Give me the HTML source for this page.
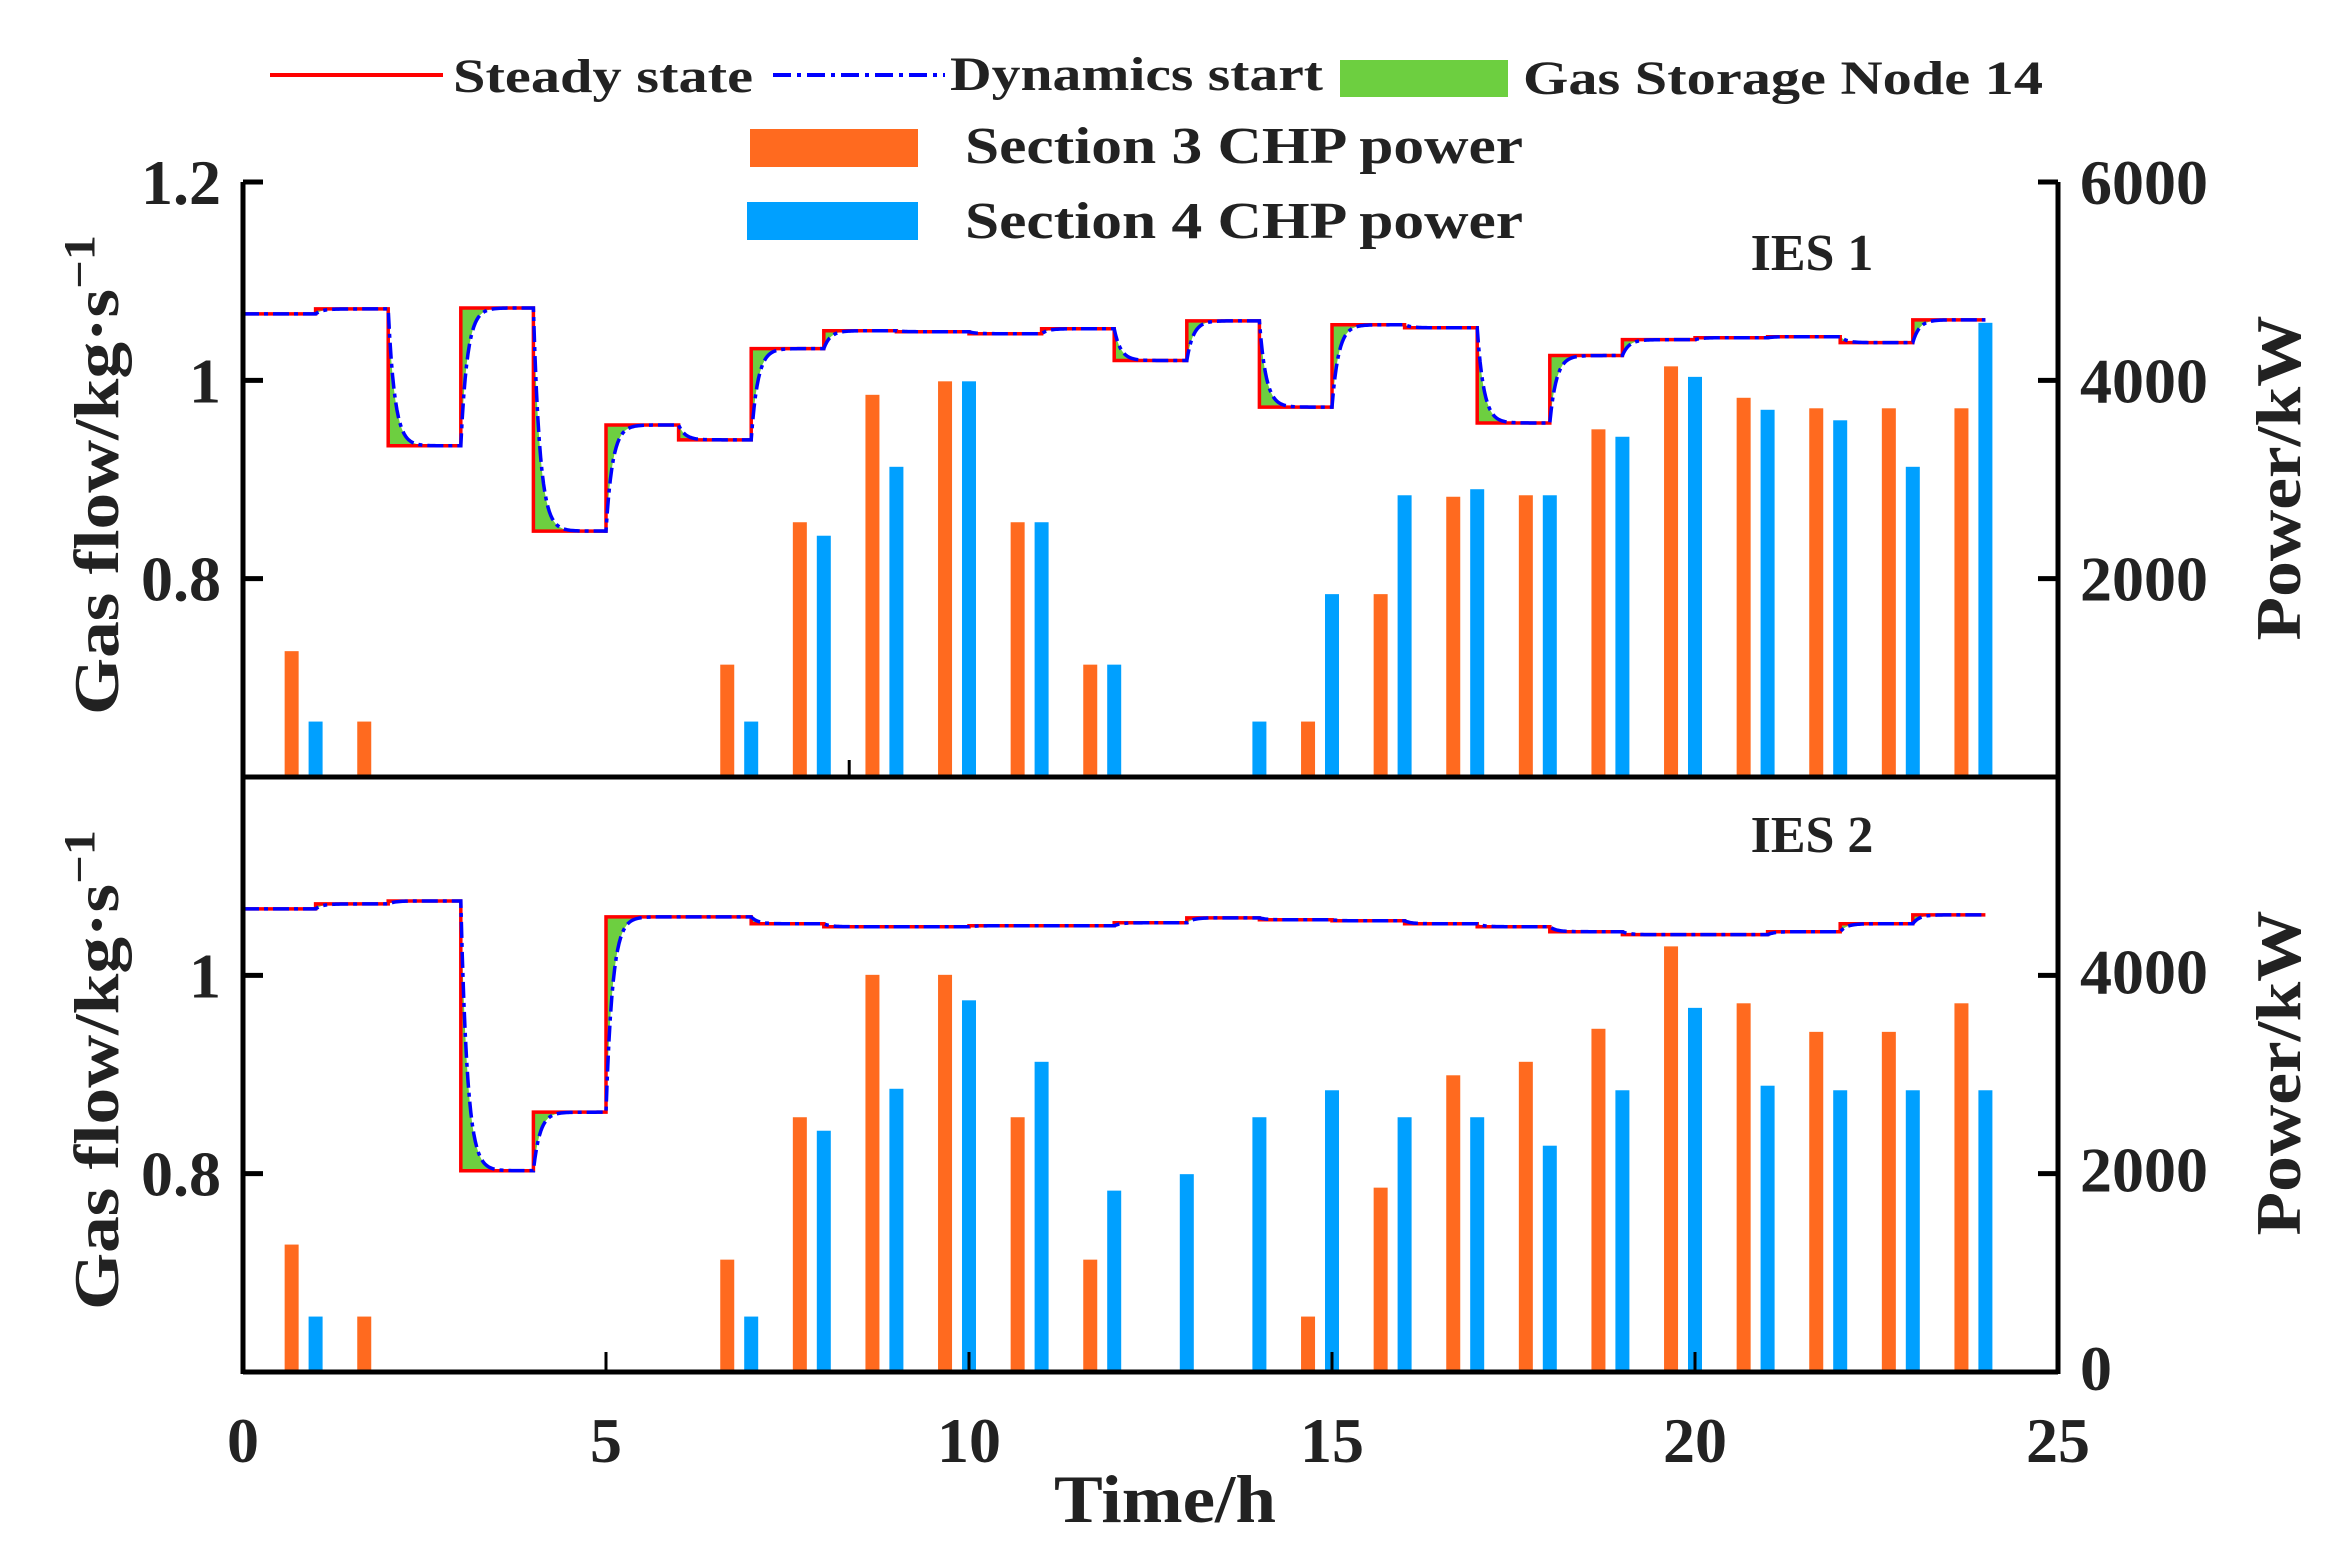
<!DOCTYPE html>
<html><head><meta charset="utf-8"><style>
html,body{margin:0;padding:0;background:#fff}
svg{display:block}
text{font-family:"Liberation Serif",serif;font-weight:bold;fill:#222}
</style></head><body>
<svg id="chart" width="2346" height="1549" viewBox="0 0 2346 1549" xmlns="http://www.w3.org/2000/svg">
<g id="legend">
  <line x1="270" y1="75" x2="443" y2="75" stroke="#f00" stroke-width="4"/>
  <text x="453" y="92" font-size="48" textLength="300" lengthAdjust="spacingAndGlyphs">Steady state</text>
  <line x1="773" y1="75" x2="945" y2="75" stroke="#00f" stroke-width="4" stroke-dasharray="18,6,4,6"/>
  <text x="950" y="90" font-size="48" textLength="373" lengthAdjust="spacingAndGlyphs">Dynamics start</text>
  <rect x="1340" y="60" width="168" height="37" fill="#6dcf40"/>
  <text x="1523" y="94" font-size="48" textLength="520" lengthAdjust="spacingAndGlyphs">Gas Storage Node 14</text>
  <rect x="750" y="129" width="168" height="38" fill="#ff6a1f"/>
  <text x="965" y="163" font-size="52" textLength="558" lengthAdjust="spacingAndGlyphs">Section 3 CHP power</text>
  <rect x="747" y="202" width="171" height="38" fill="#00a0ff"/>
  <text x="965" y="238" font-size="52" textLength="558" lengthAdjust="spacingAndGlyphs">Section 4 CHP power</text>
</g>
<g id="plot"></g>
</svg>
<script>
const hours = [1,2,3,4,5,6,7,8,9,10,11,12,13,14,15,16,17,18,19,20,21,22,23,24];
const steady1 = [1.067,1.072,0.934,1.073,0.848,0.955,0.940,1.032,1.050,1.049,1.047,1.052,1.020,1.060,0.973,1.056,1.053,0.957,1.025,1.041,1.043,1.044,1.038,1.061];
const steady2 = [1.067,1.072,1.075,0.803,0.862,1.059,1.059,1.052,1.049,1.049,1.050,1.050,1.053,1.058,1.056,1.055,1.052,1.049,1.044,1.041,1.041,1.044,1.052,1.061];
const sec3p1 = [1269,559,0,0,0,0,1133,2569,3854,3990,2569,1133,0,0,559,1844,2826,2841,3506,4141,3824,3718,3718,3718];
const sec4p1 = [559,0,0,0,0,0,559,2433,3128,3990,2569,1133,0,559,1844,2841,2902,2841,3431,4035,3703,3597,3128,4580];
const sec3p2 = [1285,559,0,0,0,0,1133,2569,4005,4005,2569,1133,0,0,559,1859,2992,3128,3461,4292,3718,3430,3430,3718];
const sec4p2 = [559,0,0,0,0,0,559,2433,2856,3748,3128,1829,1995,2569,2841,2569,2569,2282,2841,3672,2887,2841,2841,2841];
const xTicks = [0,5,10,15,20,25];
const leftTicks1 = [0.8,1.0,1.2];
const leftTicks2 = [0.8,1.0];
const rightTicks1 = [2000,4000,6000];
const rightTicks2 = [0,2000,4000];

const NS='http://www.w3.org/2000/svg';
const plot=document.getElementById('plot');
const X0=243,X1=2058,XMAX=25;
const x=t=>X0+t/XMAX*(X1-X0);
const H=595;
const panels=[{top:182,bot:777},{top:777,bot:1372}];
const yv=(p,v)=>panels[p].bot-(v-0.6)/0.6*H;
const yp=(p,w)=>panels[p].bot-w/6000*H;
function mk(tag,attrs,parent){const e=document.createElementNS(NS,tag);for(const k in attrs)e.setAttribute(k,attrs[k]);(parent||plot).appendChild(e);return e;}
function txt(s,attrs,parent){const e=mk('text',attrs,parent);e.textContent=s;return e;}

function drawPanel(p,steady,s3,s4,tag){
  const g=mk('g',{});
  
  
  hours.forEach((h,i)=>{
    if(s3[i]>0){const r=mk('rect',{x:x(h-0.33)-7,y:yp(p,s3[i]),width:14,height:yp(p,0)-yp(p,s3[i]),fill:'#ff6a1f'},g);
      
      }
    if(s4[i]>0){const r=mk('rect',{x:x(h)-7,y:yp(p,s4[i]),width:14,height:yp(p,0)-yp(p,s4[i]),fill:'#00a0ff'},g);
      
      }
  });
  const dyn=[],st=[];let cur=steady[0];const tau=0.09;
  hours.forEach((h,i)=>{
    const t0=h-1,target=steady[i],start=cur;
    for(let d=0;d<=1.0001;d+=0.02){
      const v=target+(start-target)*Math.exp(-d/tau);
      dyn.push([x(t0+d),yv(p,v)]);
    }
    cur=target+(start-target)*Math.exp(-1/tau);
    st.push([x(t0),yv(p,target)],[x(h),yv(p,target)]);
  });
  const poly=dyn.map(a=>a.join(',')).concat(st.slice().reverse().map(a=>a.join(','))).join(' ');
  const f=mk('polygon',{points:poly,fill:'#6dcf40',stroke:'none'},g);
  
  
  const sl=mk('polyline',{points:st.map(a=>a.join(',')).join(' '),fill:'none',stroke:'#f00','stroke-width':3.5},g);
  
  
  const dl=mk('polyline',{points:dyn.map(a=>a.join(',')).join(' '),fill:'none',stroke:'#00f','stroke-width':3.5,'stroke-dasharray':'16,5,4,5'},g);
  
  
}
drawPanel(0,steady1,sec3p1,sec4p1,'ies1');
drawPanel(1,steady2,sec3p2,sec4p2,'ies2');

const ax=mk('g',{stroke:'#000','stroke-width':5,fill:'none'});


const la=mk('line',{x1:X0,y1:182,x2:X0,y2:1374},ax);


const ra=mk('line',{x1:X1,y1:182,x2:X1,y2:1374},ax);


const ma=mk('line',{x1:X0,y1:777,x2:X1,y2:777},ax);


const ba=mk('line',{x1:X0,y1:1372,x2:X1,y2:1372},ax);


leftTicks1.forEach(v=>{const l=mk('line',{x1:X0,y1:yv(0,v),x2:X0+20,y2:yv(0,v)},ax);
  const t=txt(v===1?'1':v.toFixed(1),{x:X0-22,y:yv(0,v)+22,'font-size':64,'text-anchor':'end'});});
leftTicks2.forEach(v=>{const l=mk('line',{x1:X0,y1:yv(1,v),x2:X0+20,y2:yv(1,v)},ax);
  const t=txt(v===1?'1':v.toFixed(1),{x:X0-22,y:yv(1,v)+22,'font-size':64,'text-anchor':'end'});});
rightTicks1.forEach(w=>{const l=mk('line',{x1:X1,y1:yp(0,w),x2:X1-20,y2:yp(0,w)},ax);
  const t=txt(String(w),{x:X1+22,y:yp(0,w)+22,'font-size':64});});
rightTicks2.forEach(w=>{const l=mk('line',{x1:X1,y1:yp(1,w),x2:X1-20,y2:yp(1,w)},ax);
  const t=txt(String(w),{x:X1+22,y:yp(1,w)+18,'font-size':64});});
xTicks.forEach(t0=>{
  if(t0>0&&t0<25){const l=mk('line',{x1:x(t0),y1:1372,x2:x(t0),y2:1352,'stroke-width':3},ax);}
  const t=txt(String(t0),{x:x(t0),y:1462,'font-size':64,'text-anchor':'middle'});});
const odd=mk('line',{x1:x(8.35),y1:777,x2:x(8.35),y2:760,'stroke-width':3},ax);



let e;
e=txt('Time/h',{x:1165,y:1522,'font-size':68,'text-anchor':'middle',textLength:222,lengthAdjust:'spacingAndGlyphs'});

function ylab(cx,cy,len,parts,name){
  const t=mk('text',{transform:`translate(${cx},${cy}) rotate(-90)`,'text-anchor':'middle','font-size':64,textLength:len,lengthAdjust:'spacingAndGlyphs'});
  
  if(parts){t.textContent='Gas flow/kg·s';const s=document.createElementNS(NS,'tspan');s.setAttribute('dy','-24');s.setAttribute('font-size','44');s.textContent='−1';t.appendChild(s);}
  else t.textContent='Power/kW';
  return t;
}
ylab(118,475,480,true,'left-axis-title-ies1');
ylab(118,1070,480,true,'left-axis-title-ies2');
ylab(2300,478,325,false,'right-axis-title-ies1');
ylab(2300,1073,325,false,'right-axis-title-ies2');
e=txt('IES 1',{x:1812,y:270,'font-size':52,'text-anchor':'middle'});

e=txt('IES 2',{x:1812,y:852,'font-size':52,'text-anchor':'middle'});

</script>
</body></html>
